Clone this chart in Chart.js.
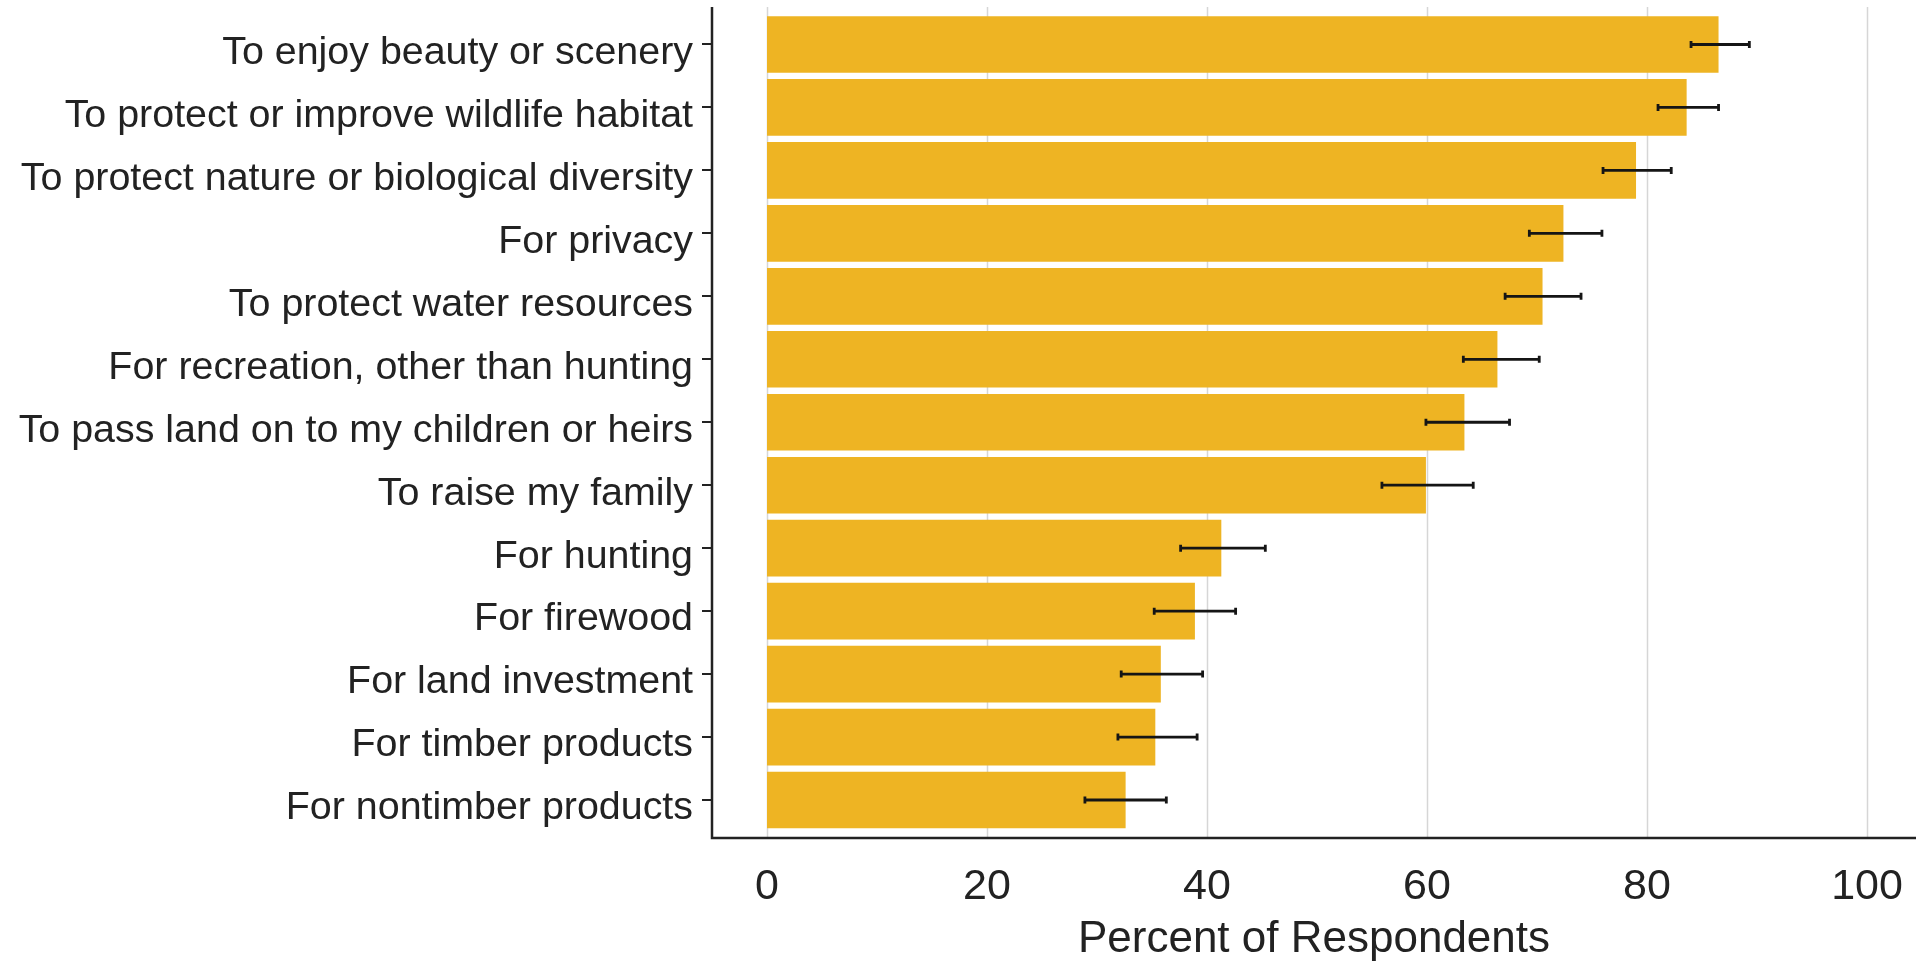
<!DOCTYPE html>
<html>
<head>
<meta charset="utf-8">
<script src="https://cdn.jsdelivr.net/npm/chart.js@4"></script>
<style>
  html, body { margin: 0; padding: 0; background: #fff; }
  #wrap { width: 1916px; height: 964px; position: relative; }
</style>
</head>
<body>
<div id="wrap"><canvas id="myChart"></canvas></div>
<script>
const categories = [
  'To enjoy beauty or scenery',
  'To protect or improve wildlife habitat',
  'To protect nature or biological diversity',
  'For privacy',
  'To protect water resources',
  'For recreation, other than hunting',
  'To pass land on to my children or heirs',
  'To raise my family',
  'For hunting',
  'For firewood',
  'For land investment',
  'For timber products',
  'For nontimber products'
];
const percents = [86.5, 83.6, 79.0, 72.4, 70.5, 66.4, 63.4, 59.9, 41.3, 38.9, 35.8, 35.3, 32.6];
const errLow  = [84.0, 81.0, 76.0, 69.3, 67.1, 63.3, 59.9, 55.9, 37.6, 35.2, 32.2, 31.9, 28.9];
const errHigh = [89.3, 86.5, 82.2, 75.9, 74.0, 70.2, 67.5, 64.2, 45.3, 42.6, 39.6, 39.1, 36.3];
const xTicks = [0, 20, 40, 60, 80, 100];

const PANEL_TOP = 7;
const AXIS_Y = 838;

// gridlines, error bars and axis lines
const extras = {
  id: 'extras',
  beforeDatasetsDraw(chart) {
    const c = chart.ctx, x = chart.scales.x;
    c.save();
    c.strokeStyle = '#d6d6d6';
    c.lineWidth = 1.5;
    xTicks.forEach(t => {
      const px = Math.round(x.getPixelForValue(t)) + 0.5;
      c.beginPath(); c.moveTo(px, PANEL_TOP); c.lineTo(px, AXIS_Y); c.stroke();
    });
    c.restore();
  },
  afterDatasetsDraw(chart) {
    const c = chart.ctx, x = chart.scales.x, y = chart.scales.y, a = chart.chartArea;
    c.save();
    c.strokeStyle = '#151515';
    c.lineWidth = 2.8;
    categories.forEach((cat, i) => {
      const py = y.getPixelForValue(i);
      const x1 = x.getPixelForValue(errLow[i]);
      const x2 = x.getPixelForValue(errHigh[i]);
      c.beginPath();
      c.moveTo(x1, py); c.lineTo(x2, py);
      c.moveTo(x1, py - 3.5); c.lineTo(x1, py + 3.5);
      c.moveTo(x2, py - 3.5); c.lineTo(x2, py + 3.5);
      c.stroke();
    });
    // axis lines
    c.strokeStyle = '#222';
    c.lineWidth = 2.5;
    c.beginPath();
    c.moveTo(a.left, PANEL_TOP); c.lineTo(a.left, AXIS_Y);
    c.lineTo(a.right, AXIS_Y);
    c.stroke();
    c.restore();
  }
};

const ctx = document.getElementById('myChart');

new Chart(ctx, {
  type: 'bar',
  data: {
    labels: categories,
    datasets: [{
      data: percents,
      backgroundColor: '#EEB423',
      borderWidth: 0,
      barPercentage: 0.9,
      categoryPercentage: 1.0
    }]
  },
  options: {
    indexAxis: 'y',
    responsive: true,
    maintainAspectRatio: false,
    animation: false,
    layout: { padding: { top: 13, right: 0, left: 0, bottom: 0 } },
    plugins: {
      legend: { display: false },
      tooltip: { enabled: false }
    },
    scales: {
      x: {
        min: -5,
        max: 104.45,
        afterBuildTicks: (s) => { s.ticks = xTicks.map(v => ({ value: v })); },
        afterFit: (s) => { s.height = 132.5; s.paddingLeft = 0; s.paddingRight = 0; },
        grid: { display: false, drawTicks: false },
        border: { display: false },
        ticks: {
          color: '#222',
          padding: 30,
          maxRotation: 0,
          font: { family: 'Liberation Sans', size: 43 }
        },
        title: {
          display: true,
          text: 'Percent of Respondents',
          color: '#222',
          padding: { top: 0, bottom: 0 },
          font: { family: 'Liberation Sans', size: 44, lineHeight: 1.1 }
        }
      },
      y: {
        afterFit: (s) => { s.width = 712; s.paddingTop = 0; s.paddingBottom = 0; },
        grid: { display: true, offset: false, drawOnChartArea: false, drawTicks: true, tickLength: 10, color: '#222', lineWidth: 2 },
        border: { display: false },
        ticks: {
          color: '#222',
          padding: 9,
          labelOffset: 8.5,
          font: { family: 'Liberation Sans', size: 39.4 }
        }
      }
    }
  },
  plugins: [extras]
});
</script>
</body>
</html>
